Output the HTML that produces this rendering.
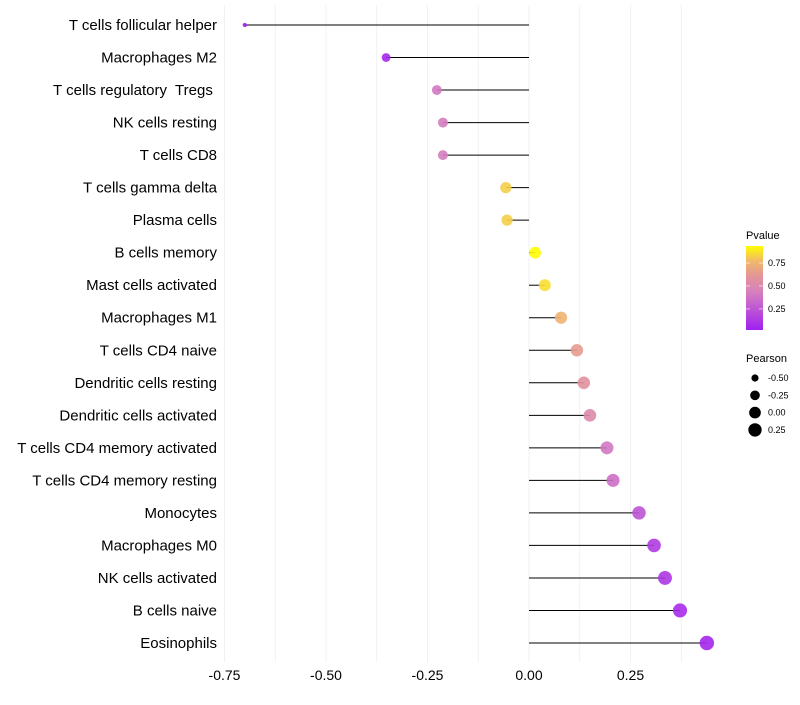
<!DOCTYPE html>
<html><head><meta charset="utf-8"><style>
body{margin:0;background:#fff;font-family:"Liberation Sans",sans-serif}
</style></head><body>
<svg id="chart" width="800" height="700" xmlns="http://www.w3.org/2000/svg"></svg>
<script>
const categories=["T cells follicular helper","Macrophages M2","T cells regulatory  Tregs ","NK cells resting","T cells CD8","T cells gamma delta","Plasma cells","B cells memory","Mast cells activated","Macrophages M1","T cells CD4 naive","Dendritic cells resting","Dendritic cells activated","T cells CD4 memory activated","T cells CD4 memory resting","Monocytes","Macrophages M0","NK cells activated","B cells naive","Eosinophils"];
const pearson=[-0.70,-0.352,-0.227,-0.212,-0.212,-0.057,-0.054,0.015,0.039,0.079,0.118,0.135,0.150,0.192,0.207,0.271,0.308,0.335,0.372,0.438];
const pvalue=[0.02,0.06,0.4,0.42,0.42,0.82,0.82,0.93,0.86,0.74,0.64,0.58,0.52,0.4,0.36,0.24,0.14,0.12,0.07,0.05];
const xTicks=[-0.75,-0.5,-0.25,0,0.25];
const xTickLabels=["-0.75","-0.50","-0.25","0.00","0.25"];
const pLegendTicks=[0.25,0.5,0.75];
const sizeLegend=[-0.5,-0.25,0,0.25];
const sizeLegendLabels=["-0.50","-0.25","0.00","0.25"];

const NS="http://www.w3.org/2000/svg";
const svg=document.getElementById('chart');
function el(t,a){const e=document.createElementNS(NS,t);for(const k in a)e.setAttribute(k,a[k]);svg.appendChild(e);return e;}
const X=v=>529+v*406;
const Y=i=>25+i*(618/19);
const R=v=>Math.sqrt(Math.max(2.5,34+42*v));
const stops=[[0,[160,32,240]],[0.45,[214,128,190]],[0.65,[228,150,150]],[0.82,[240,185,105]],[1,[255,255,0]]];
function col(p){let t=(p-0.02)/(0.935-0.02);t=Math.max(0,Math.min(1,t));
for(let i=1;i<stops.length;i++){if(t<=stops[i][0]){const a=stops[i-1],b=stops[i];const f=(t-a[0])/(b[0]-a[0]);
return 'rgb('+a[1].map((c,j)=>Math.round(c+(b[1][j]-c)*f)).join(',')+')';}}return 'rgb(255,255,0)';}
// grid
for(let v=-0.75;v<=0.45;v+=0.125){const g=el('line',{x1:X(v),x2:X(v),y1:5,y2:662,stroke:'#f1f1f1','stroke-width':1});
}
xTicks.forEach((v,i)=>{const t=el('text',{x:X(v),y:680,'text-anchor':'middle','font-size':14,fill:'#000'});t.textContent=xTickLabels[i];
});
categories.forEach((c,i)=>{const y=Y(i);
const t=el('text',{x:217,y:y+5,'text-anchor':'end','font-size':15,fill:'#000'});t.setAttribute('xml:space','preserve');t.style.whiteSpace='pre';t.textContent=c;

const l=el('line',{x1:X(0),x2:X(pearson[i]),y1:y,y2:y,stroke:'#000','stroke-width':1});

const d=el('circle',{cx:X(pearson[i]),cy:y,r:R(pearson[i]),fill:col(pvalue[i]),'fill-opacity':0.9});
});
// color legend
const defs=el('defs',{});
const lg=document.createElementNS(NS,'linearGradient');lg.setAttribute('id','pg');lg.setAttribute('x1',0);lg.setAttribute('y1',1);lg.setAttribute('x2',0);lg.setAttribute('y2',0);
stops.forEach(s=>{const st=document.createElementNS(NS,'stop');st.setAttribute('offset',s[0]);st.setAttribute('stop-color','rgb('+s[1].join(',')+')');lg.appendChild(st);});
defs.appendChild(lg);
let t=el('text',{x:746,y:239,'font-size':11,fill:'#000'});t.textContent='Pvalue';
const bar=el('rect',{x:746,y:246,width:17,height:84,fill:'url(#pg)'});
const PY=p=>330-(p-0.02)/(0.935-0.02)*84;
pLegendTicks.forEach(p=>{el('line',{x1:746,x2:750,y1:PY(p),y2:PY(p),stroke:'#fff','stroke-opacity':0.6});el('line',{x1:759,x2:763,y1:PY(p),y2:PY(p),stroke:'#fff','stroke-opacity':0.6});
const tt=el('text',{x:768,y:PY(p)+3,'font-size':9,fill:'#000'});tt.textContent=p.toFixed(2);
});
t=el('text',{x:746,y:362,'font-size':11,fill:'#000'});t.textContent='Pearson';
sizeLegend.forEach((v,i)=>{const y=378+i*17.3;const c=el('circle',{cx:755,cy:y,r:R(v),fill:'#000'});

const tt=el('text',{x:768,y:y+3,'font-size':9,fill:'#000'});tt.textContent=sizeLegendLabels[i];
});
</script>
</body></html>
